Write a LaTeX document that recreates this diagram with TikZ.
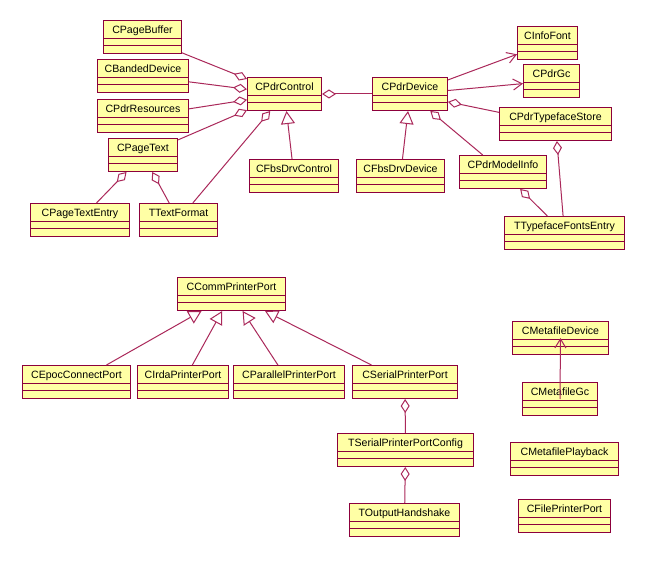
\documentclass[tikz,border=0pt]{standalone}
\usepackage{fontspec}
\setmainfont{Liberation Sans}
\usepackage{xcolor}
\usepackage{tikz}
\usetikzlibrary{arrows.meta}

\definecolor{umlborder}{RGB}{140,0,60}
\definecolor{umlline}{RGB}{170,40,90}
\definecolor{umlfill}{RGB}{255,255,165}

\begin{document}
\begin{tikzpicture}[x=1pt, y=-1pt,
  font=\fontsize{10.6}{12}\selectfont,
  cls/.style = {rectangle, draw=umlborder, fill=umlfill, line width=1pt,
                anchor=north west, inner ysep=0pt, inner xsep=2pt,
                text height=13pt, text depth=20pt,
                path picture={\draw[umlborder, line width=1pt]
                  ([yshift=-18pt]path picture bounding box.north west) --
                  ([yshift=-18pt]path picture bounding box.north east)
                  ([yshift=-25pt]path picture bounding box.north west) --
                  ([yshift=-25pt]path picture bounding box.north east);}},
  agg/.style = {draw=umlline, line width=1pt, {Diamond[open, length=14pt, width=9pt]}-},
  inh/.style = {draw=umlline, line width=1pt, -{Triangle[open, length=13pt, width=14pt]}},
  nav/.style = {draw=umlline, line width=1pt, -{Straight Barb[length=9pt, width=11pt]}}
]
\path[use as bounding box, fill=white] (0,0) rectangle (654,561);

% -- Control side (left) --
\node[cls, minimum width=78pt]  (pagebuf)    at (103,20)  {CPageBuffer};
\node[cls, minimum width=91pt]  (banded)     at (97,59)   {CBandedDevice};
\node[cls, minimum width=91pt]  (resources)  at (97,99)   {CPdrResources};
\node[cls, minimum width=69pt]  (pagetext)   at (108,138) {CPageText};
\node[cls, minimum width=99pt]  (textentry)  at (30,203)  {CPageTextEntry};
\node[cls, minimum width=78pt]  (textformat) at (139,203) {TTextFormat};
\node[cls, minimum width=74pt]  (pdrctl)     at (247,77)  {CPdrControl};
\node[cls, minimum width=89pt]  (fbsctl)     at (249,159) {CFbsDrvControl};

% -- Device side (right) --
\node[cls, minimum width=75pt]  (pdrdev)     at (372,77)  {CPdrDevice};
\node[cls, minimum width=88pt]  (fbsdev)     at (356,159) {CFbsDrvDevice};
\node[cls, minimum width=60pt]  (infofont)   at (517,26)  {CInfoFont};
\node[cls, minimum width=56pt]  (pdrgc)      at (523,64)  {CPdrGc};
\node[cls, minimum width=112pt] (tfstore)    at (499,107) {CPdrTypefaceStore};
\node[cls, minimum width=87pt]  (modelinfo)  at (459,155) {CPdrModelInfo};
\node[cls, minimum width=120pt] (tfentry)    at (504,216) {TTypefaceFontsEntry};

% -- Printer ports --
\node[cls, minimum width=108pt] (commport)   at (177,277) {CCommPrinterPort};
\node[cls, minimum width=108pt] (epocport)   at (22,365)  {CEpocConnectPort};
\node[cls, minimum width=91pt]  (irdaport)   at (137,365) {CIrdaPrinterPort};
\node[cls, minimum width=111pt] (parport)    at (233,365) {CParallelPrinterPort};
\node[cls, minimum width=105pt] (serport)    at (352,365) {CSerialPrinterPort};
\node[cls, minimum width=136pt] (serconfig)  at (337,433) {TSerialPrinterPortConfig};
\node[cls, minimum width=110pt] (handshake)  at (349,503) {TOutputHandshake};

% -- Metafile classes --
\node[cls, minimum width=96pt]  (mfdevice)   at (512,321) {CMetafileDevice};
\node[cls, minimum width=75pt]  (mfgc)       at (522,382) {CMetafileGc};
\node[cls, minimum width=108pt] (mfplay)     at (510,442) {CMetafilePlayback};
\node[cls, minimum width=92pt]  (fileport)   at (518,499) {CFilePrinterPort};

% -- Connectors: control --
\draw[agg] (pdrctl) -- (pagebuf);
\draw[agg] (pdrctl) -- (banded);
\draw[agg] (pdrctl) -- (resources);
\draw[agg] (pdrctl) -- (pagetext);
\draw[agg] (pdrctl) -- (textformat);
\draw[agg] (pagetext) -- (textentry);
\draw[agg] (pagetext) -- (textformat);
\draw[inh] (fbsctl) -- (pdrctl);
\draw[agg] (pdrctl) -- (pdrdev);

% -- Connectors: device --
\draw[inh] (fbsdev) -- (pdrdev);
\draw[nav] (pdrdev) -- (infofont);
\draw[nav] (pdrdev) -- (pdrgc);
\draw[agg] (pdrdev) -- (tfstore);
\draw[agg] (pdrdev) -- (modelinfo);
\draw[agg] (tfstore) -- (tfentry);
\draw[agg] (modelinfo) -- (tfentry);

% -- Connectors: ports --
\draw[inh] (epocport) -- (commport);
\draw[inh] (irdaport) -- (commport);
\draw[inh] (parport)  -- (commport);
\draw[inh] (serport)  -- (commport);
\draw[agg] (serport) -- (serconfig);
\draw[agg] (serconfig) -- (handshake);

% -- Connectors: metafile --
\draw[nav] (mfgc.center) -- (mfdevice.center);

\end{tikzpicture}
\end{document}
